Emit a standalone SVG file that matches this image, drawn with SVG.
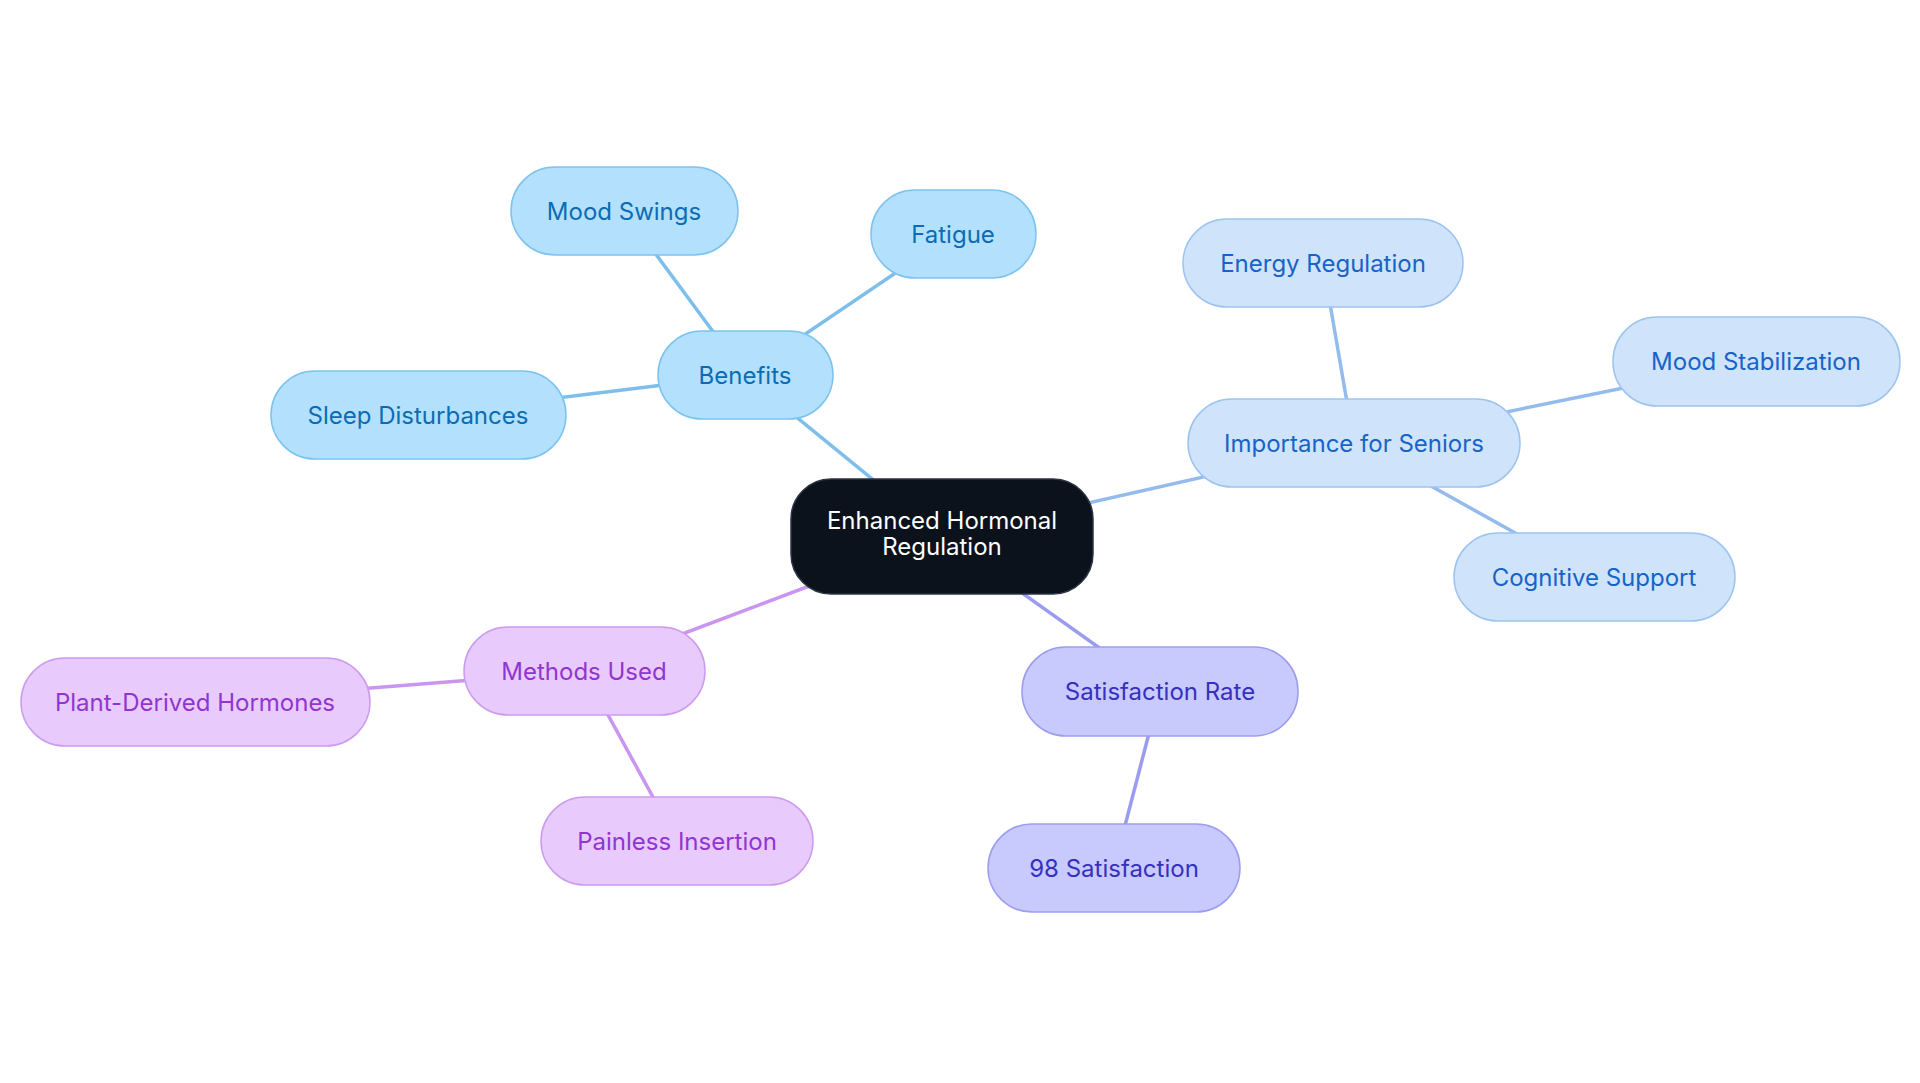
<svg xmlns="http://www.w3.org/2000/svg" width="1920" height="1083" viewBox="0 0 1920 1083">
<style>
text{font-family:Inter,"Noto Sans",sans-serif;font-size:24px;text-anchor:middle;dominant-baseline:central}
.e{stroke-width:3.5;fill:none}
.b rect{fill:#b3e0fd;stroke:#7dc3ef;stroke-width:1.5}.b text{fill:#0b6cb3}
.i rect{fill:#cfe3fb;stroke:#9ec4f0;stroke-width:1.5}.i text{fill:#1763c6}
.s rect{fill:#c8c9fc;stroke:#9d9df0;stroke-width:1.5}.s text{fill:#3530bf}
.m rect{fill:#e8cafc;stroke:#cc9cf0;stroke-width:1.5}.m text{fill:#9135cf}
</style>
<rect width="1920" height="1083" fill="#fff"/>
<g id="connectors">
<line class="e" stroke="#7dbfea" x1="942" y1="536" x2="745" y2="375"/>
<line class="e" stroke="#7dbfea" x1="745" y1="375" x2="624" y2="211"/>
<line class="e" stroke="#7dbfea" x1="745" y1="375" x2="953" y2="234"/>
<line class="e" stroke="#7dbfea" x1="745" y1="375" x2="418" y2="415"/>
<line class="e" stroke="#94bbee" x1="942" y1="536" x2="1354" y2="443"/>
<line class="e" stroke="#94bbee" x1="1354" y1="443" x2="1323" y2="263"/>
<line class="e" stroke="#94bbee" x1="1354" y1="443" x2="1756" y2="361"/>
<line class="e" stroke="#94bbee" x1="1354" y1="443" x2="1594" y2="577"/>
<line class="e" stroke="#9b9bf0" x1="942" y1="536" x2="1160" y2="691"/>
<line class="e" stroke="#9b9bf0" x1="1160" y1="691" x2="1114" y2="868"/>
<line class="e" stroke="#c995f0" x1="942" y1="536" x2="584" y2="671"/>
<line class="e" stroke="#c995f0" x1="584" y1="671" x2="195" y2="702"/>
<line class="e" stroke="#c995f0" x1="584" y1="671" x2="677" y2="841"/>
</g>
<g id="center"><rect x="791" y="479" width="302" height="115" rx="40" fill="#0b121c" stroke="#2d3542" stroke-width="1.5"/><text x="942" y="520" fill="#fff">Enhanced Hormonal</text><text x="942" y="546" fill="#fff">Regulation</text></g>
<g id="benefits" class="b"><rect x="658" y="331" width="175" height="88" rx="44"/><text x="745" y="375">Benefits</text></g>
<g id="mood-swings" class="b"><rect x="511" y="167" width="227" height="88" rx="44"/><text x="624" y="211">Mood Swings</text></g>
<g id="fatigue" class="b"><rect x="871" y="190" width="165" height="88" rx="44"/><text x="953" y="234">Fatigue</text></g>
<g id="sleep" class="b"><rect x="271" y="371" width="295" height="88" rx="44"/><text x="418" y="415">Sleep Disturbances</text></g>
<g id="importance" class="i"><rect x="1188" y="399" width="332" height="88" rx="44"/><text x="1354" y="443">Importance for Seniors</text></g>
<g id="energy" class="i"><rect x="1183" y="219" width="280" height="88" rx="44"/><text x="1323" y="263">Energy Regulation</text></g>
<g id="mood-stab" class="i"><rect x="1613" y="317" width="287" height="89" rx="44"/><text x="1756" y="361">Mood Stabilization</text></g>
<g id="cognitive" class="i"><rect x="1454" y="533" width="281" height="88" rx="44"/><text x="1594" y="577">Cognitive Support</text></g>
<g id="satisfaction" class="s"><rect x="1022" y="647" width="276" height="89" rx="44"/><text x="1160" y="691">Satisfaction Rate</text></g>
<g id="s98" class="s"><rect x="988" y="824" width="252" height="88" rx="44"/><text x="1114" y="868">98 Satisfaction</text></g>
<g id="methods" class="m"><rect x="464" y="627" width="241" height="88" rx="44"/><text x="584" y="671">Methods Used</text></g>
<g id="plant" class="m"><rect x="21" y="658" width="349" height="88" rx="44"/><text x="195" y="702">Plant-Derived Hormones</text></g>
<g id="painless" class="m"><rect x="541" y="797" width="272" height="88" rx="44"/><text x="677" y="841">Painless Insertion</text></g>
</svg>
